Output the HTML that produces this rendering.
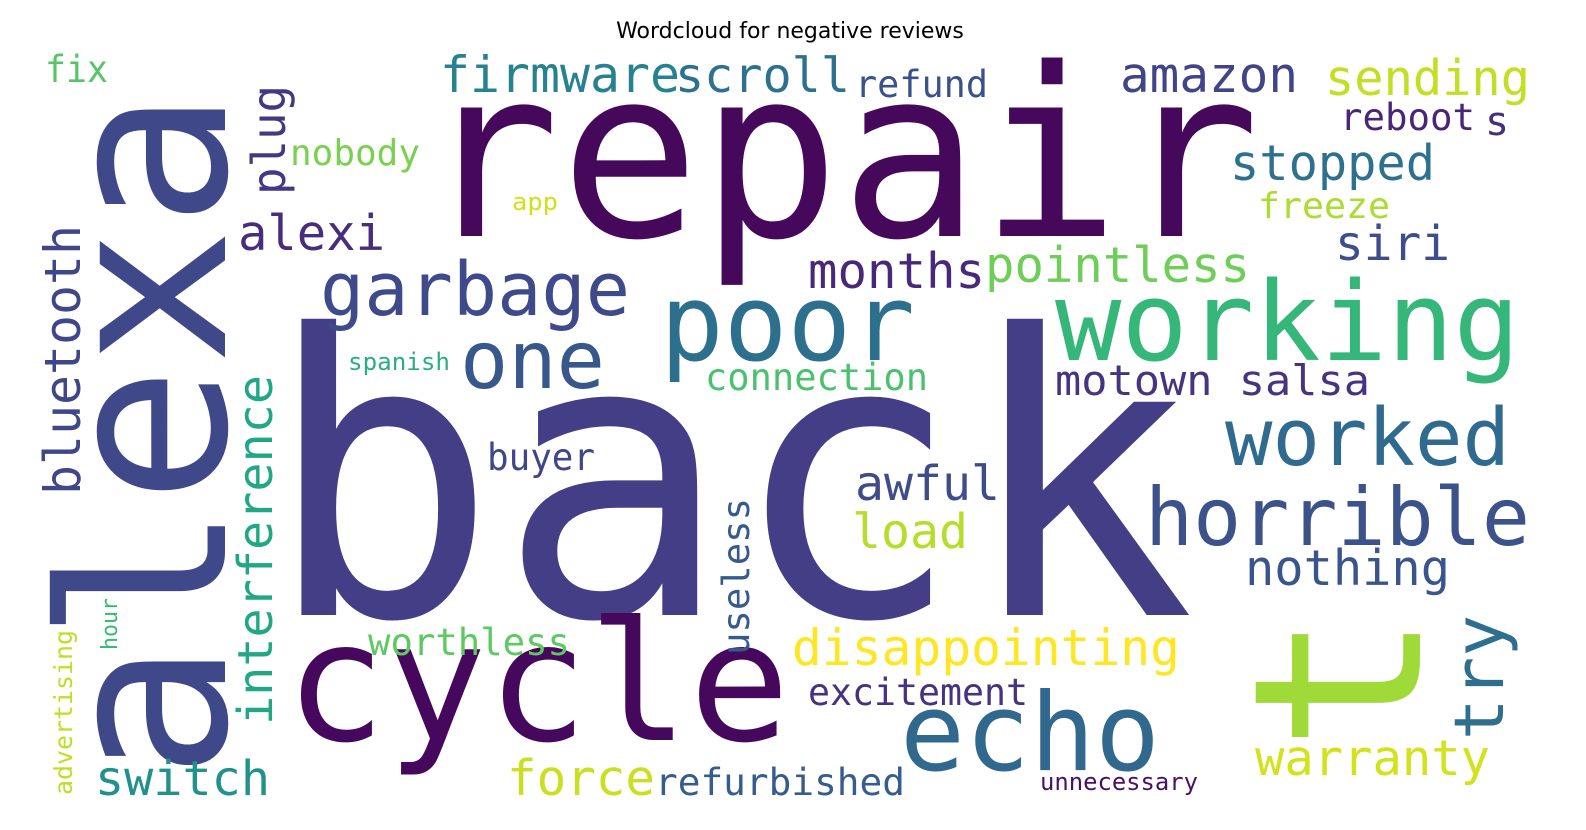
<!DOCTYPE html>
<html><head><meta charset="utf-8">
<style>
html,body{margin:0;padding:0;background:#fff;}
svg{display:block;}
text{font-family:"DejaVu Sans Mono","Liberation Mono",monospace;}
</style></head>
<body>
<svg width="1586" height="830" viewBox="0 0 1586 830">
<text x="790" y="38" text-anchor="middle" style="font-family:'DejaVu Sans','Liberation Sans',sans-serif" font-size="22" fill="#000">Wordcloud for negative reviews</text>
<g>
<text x="420" y="236" font-size="235" fill="#45085b" textLength="840" lengthAdjust="spacingAndGlyphs">repair</text>
<text x="265" y="615" font-size="390" fill="#433e85" textLength="930" lengthAdjust="spacingAndGlyphs">back</text>
<text transform="translate(225,780) rotate(-90)" font-size="229" fill="#3f4889" textLength="690" lengthAdjust="spacingAndGlyphs">alexa</text>
<text x="285" y="740" font-size="166" fill="#46085c" textLength="505" lengthAdjust="spacingAndGlyphs">cycle</text>
<text x="900" y="770" font-size="108" fill="#31688e" textLength="260" lengthAdjust="spacingAndGlyphs">echo</text>
<text transform="translate(1420,752) rotate(-90)" font-size="234" fill="#a0da39">t</text>
<text x="660" y="360" font-size="106" fill="#2d708e" textLength="255" lengthAdjust="spacingAndGlyphs">poor</text>
<text x="1055" y="360" font-size="110" fill="#35b779" textLength="465" lengthAdjust="spacingAndGlyphs">working</text>
<text x="320" y="315" font-size="74" fill="#3e4a89" textLength="310" lengthAdjust="spacingAndGlyphs">garbage</text>
<text x="460" y="388" font-size="80" fill="#38588c" textLength="145" lengthAdjust="spacingAndGlyphs">one</text>
<text x="1225" y="465" font-size="79" fill="#306a8e" textLength="285" lengthAdjust="spacingAndGlyphs">worked</text>
<text x="1145" y="545" font-size="80" fill="#3b528b" textLength="385" lengthAdjust="spacingAndGlyphs">horrible</text>
<text x="440" y="92" font-size="50" fill="#26828e" textLength="240" lengthAdjust="spacingAndGlyphs">firmware</text>
<text x="675" y="92" font-size="48" fill="#2c728e" textLength="175" lengthAdjust="spacingAndGlyphs">scroll</text>
<text x="855" y="97" font-size="37" fill="#3b518b" textLength="133" lengthAdjust="spacingAndGlyphs">refund</text>
<text x="1120" y="92" font-size="49" fill="#414487" textLength="178" lengthAdjust="spacingAndGlyphs">amazon</text>
<text x="1325" y="95" font-size="49" fill="#c2df23" textLength="205" lengthAdjust="spacingAndGlyphs">sending</text>
<text x="1340" y="130" font-size="37" fill="#482576" textLength="135" lengthAdjust="spacingAndGlyphs">reboot</text>
<text x="1485" y="135" font-size="40" fill="#46307e">s</text>
<text x="1230" y="180" font-size="49" fill="#2d718e" textLength="205" lengthAdjust="spacingAndGlyphs">stopped</text>
<text x="1258" y="218" font-size="36" fill="#aadc32" textLength="132" lengthAdjust="spacingAndGlyphs">freeze</text>
<text x="1335" y="260" font-size="48" fill="#3d4e8a" textLength="115" lengthAdjust="spacingAndGlyphs">siri</text>
<text x="238" y="250" font-size="49" fill="#472d7b" textLength="147" lengthAdjust="spacingAndGlyphs">alexi</text>
<text x="290" y="165" font-size="36" fill="#7ad151" textLength="130" lengthAdjust="spacingAndGlyphs">nobody</text>
<text x="512" y="210" font-size="24" fill="#d0e11c" textLength="46" lengthAdjust="spacingAndGlyphs">app</text>
<text x="808" y="288" font-size="49" fill="#482878" textLength="177" lengthAdjust="spacingAndGlyphs">months</text>
<text x="985" y="282" font-size="49" fill="#6ece58" textLength="265" lengthAdjust="spacingAndGlyphs">pointless</text>
<text x="348" y="370" font-size="24" fill="#29af7f" textLength="102" lengthAdjust="spacingAndGlyphs">spanish</text>
<text x="705" y="390" font-size="37" fill="#4ac16d" textLength="223" lengthAdjust="spacingAndGlyphs">connection</text>
<text x="1055" y="395" font-size="42" fill="#463480" textLength="315" lengthAdjust="spacingAndGlyphs">motown salsa</text>
<text x="487" y="470" font-size="37" fill="#404688" textLength="108" lengthAdjust="spacingAndGlyphs">buyer</text>
<text x="855" y="500" font-size="48" fill="#3e4c8a" textLength="145" lengthAdjust="spacingAndGlyphs">awful</text>
<text x="852" y="548" font-size="48" fill="#b5de2b" textLength="116" lengthAdjust="spacingAndGlyphs">load</text>
<text x="1245" y="585" font-size="49" fill="#3a548c" textLength="205" lengthAdjust="spacingAndGlyphs">nothing</text>
<text x="792" y="665" font-size="50" fill="#fde725" textLength="388" lengthAdjust="spacingAndGlyphs">disappointing</text>
<text x="368" y="655" font-size="37" fill="#5ec962" textLength="202" lengthAdjust="spacingAndGlyphs">worthless</text>
<text x="808" y="705" font-size="37" fill="#46327e" textLength="220" lengthAdjust="spacingAndGlyphs">excitement</text>
<text x="1255" y="775" font-size="49" fill="#d2e21b" textLength="235" lengthAdjust="spacingAndGlyphs">warranty</text>
<text x="1040" y="790" font-size="24" fill="#471164" textLength="158" lengthAdjust="spacingAndGlyphs">unnecessary</text>
<text x="507" y="795" font-size="49" fill="#c8e020" textLength="148" lengthAdjust="spacingAndGlyphs">force</text>
<text x="655" y="795" font-size="37" fill="#365c8d" textLength="250" lengthAdjust="spacingAndGlyphs">refurbished</text>
<text x="95" y="795" font-size="48" fill="#21918c" textLength="175" lengthAdjust="spacingAndGlyphs">switch</text>
<text x="45" y="82" font-size="37" fill="#54c568" textLength="63" lengthAdjust="spacingAndGlyphs">fix</text>
<text transform="translate(285,195) rotate(-90)" font-size="46" fill="#453781" textLength="110" lengthAdjust="spacingAndGlyphs">plug</text>
<text transform="translate(80,495) rotate(-90)" font-size="50" fill="#3f4788" textLength="270" lengthAdjust="spacingAndGlyphs">bluetooth</text>
<text transform="translate(272,725) rotate(-90)" font-size="48" fill="#22a785" textLength="350" lengthAdjust="spacingAndGlyphs">interference</text>
<text transform="translate(749,655) rotate(-90)" font-size="37" fill="#375a8c" textLength="157" lengthAdjust="spacingAndGlyphs">useless</text>
<text transform="translate(117,650) rotate(-90)" font-size="22" fill="#38b977" textLength="52" lengthAdjust="spacingAndGlyphs">hour</text>
<text transform="translate(72,795) rotate(-90)" font-size="25" fill="#bddf26" textLength="165" lengthAdjust="spacingAndGlyphs">advertising</text>
<text transform="translate(1503,740) rotate(-90)" font-size="69" fill="#2e6e8e" textLength="125" lengthAdjust="spacingAndGlyphs">try</text>
</g>
</svg>
</body></html>
